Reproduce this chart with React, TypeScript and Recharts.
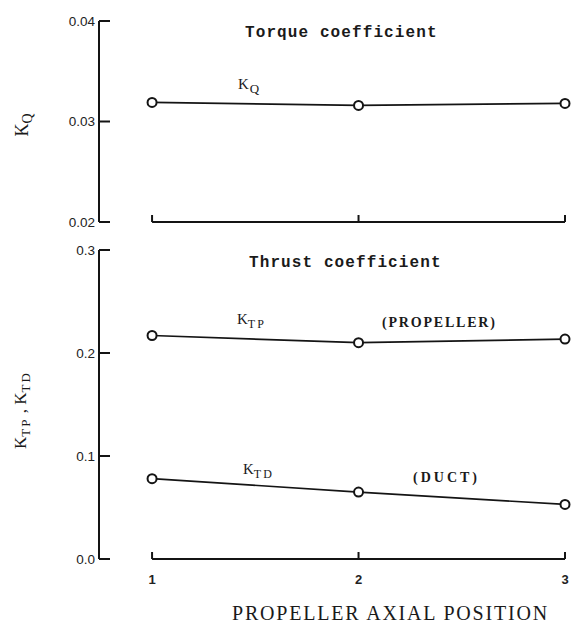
import { Line, LineChart, ReferenceLine, XAxis, YAxis } from 'recharts';

const positions = [1, 2, 3];
const kq = [0.0319, 0.0316, 0.0318];
const ktp = [0.217, 0.21, 0.2135];
const ktd = [0.078, 0.065, 0.053];

const kqTicks = [0.02, 0.03, 0.04];
const kqTickLabels = ['0.02', '0.03', '0.04'];
const ktTicks = [0, 0.1, 0.2, 0.3];
const ktTickLabels = ['0.0', '0.1', '0.2', '0.3'];
const xTickLabels = ['1', '2', '3'];

const topData = positions.map((p, i) => ({ pos: p, kq: kq[i] }));
const bottomData = positions.map((p, i) => ({ pos: p, ktp: ktp[i], ktd: ktd[i] }));

const INK = '#141414';
const X_DOMAIN: [number, number] = [0.743, 3];

function YTick({ x, y, payload, ticks, labels }: any) {
  const idx = ticks.indexOf(payload.value);
  return (
    <g>
      <line x1={x} y1={y} x2={x + 11} y2={y} stroke={INK} strokeWidth={2} />
      <text x={x - 4} y={y} textAnchor="end" dominantBaseline="central" fontFamily="Liberation Sans" fontSize={13.5} fill="#222">
        {labels[idx]}
      </text>
    </g>
  );
}

function XTick({ x, y, payload, showLabel }: any) {
  const idx = positions.indexOf(payload.value);
  return (
    <g>
      <line x1={x} y1={y} x2={x} y2={y - 7} stroke={INK} strokeWidth={2} />
      {showLabel && (
        <text x={x} y={y + 20} textAnchor="middle" dominantBaseline="central" fontFamily="Liberation Sans" fontWeight={700} fontSize={13} fill="#222">
          {xTickLabels[idx]}
        </text>
      )}
    </g>
  );
}

const dot = { r: 4.5, stroke: INK, strokeWidth: 2, fill: '#fff' };

const abs = (left: number, top: number, extra: React.CSSProperties = {}): React.CSSProperties => ({
  position: 'absolute',
  left,
  top,
  transform: 'translateY(-50%)',
  lineHeight: 1,
  whiteSpace: 'nowrap',
  color: '#1a1a1a',
  ...extra,
});

const mono: React.CSSProperties = { fontFamily: 'Liberation Mono', fontWeight: 700, fontSize: 16, letterSpacing: 1.1 };
const serif: React.CSSProperties = { fontFamily: 'Liberation Serif' };

export default function App() {
  return (
    <div style={{ position: 'absolute', left: 0, top: 0, width: 573, height: 629, background: '#fff', overflow: 'hidden' }}>
      <div style={{ position: 'absolute', left: 0, top: 0 }}>
        <LineChart width={573} height={240} data={topData} margin={{ top: 21, right: 8, bottom: 0, left: 0 }}>
          <XAxis
            dataKey="pos"
            type="number"
            domain={X_DOMAIN}
            ticks={positions}
            height={18}
            axisLine={false}
            tickLine={false}
            tickSize={0}
            tickMargin={0}
            tick={<XTick showLabel={false} />}
          />
          <YAxis
            type="number"
            domain={[0.02, 0.04]}
            ticks={kqTicks}
            width={99}
            axisLine={{ stroke: INK, strokeWidth: 2 }}
            tickLine={false}
            tickSize={0}
            tickMargin={0}
            tick={<YTick ticks={kqTicks} labels={kqTickLabels} />}
          />
          <ReferenceLine
            segment={[{ x: 1, y: 0.02 }, { x: 3, y: 0.02 }]}
            stroke={INK}
            strokeWidth={2}
            ifOverflow="visible"
          />
          <Line dataKey="kq" stroke={INK} strokeWidth={1.7} dot={dot} isAnimationActive={false} />
        </LineChart>
      </div>
      <div style={{ position: 'absolute', left: 0, top: 230 }}>
        <LineChart width={573} height={399} data={bottomData} margin={{ top: 20, right: 8, bottom: 0, left: 0 }}>
          <XAxis
            dataKey="pos"
            type="number"
            domain={X_DOMAIN}
            ticks={positions}
            height={70}
            axisLine={false}
            tickLine={false}
            tickSize={0}
            tickMargin={0}
            tick={<XTick showLabel={true} />}
          />
          <YAxis
            type="number"
            domain={[0, 0.3]}
            ticks={ktTicks}
            width={99}
            axisLine={{ stroke: INK, strokeWidth: 2 }}
            tickLine={false}
            tickSize={0}
            tickMargin={0}
            tick={<YTick ticks={ktTicks} labels={ktTickLabels} />}
          />
          <ReferenceLine
            segment={[{ x: 1, y: 0 }, { x: 3, y: 0 }]}
            stroke={INK}
            strokeWidth={2}
            ifOverflow="visible"
          />
          <Line dataKey="ktp" stroke={INK} strokeWidth={1.7} dot={dot} isAnimationActive={false} />
          <Line dataKey="ktd" stroke={INK} strokeWidth={1.7} dot={dot} isAnimationActive={false} />
        </LineChart>
      </div>

      <div style={abs(245, 33, mono)}>Torque coefficient</div>
      <div style={abs(249, 263, mono)}>Thrust coefficient</div>

      <div style={abs(238, 86, { ...serif, fontSize: 15 })}>
        K<sub style={{ fontSize: 13, marginLeft: 1 }}>Q</sub>
      </div>
      <div style={abs(237, 321, { ...serif, fontSize: 15 })}>
        K<sub style={{ fontSize: 12, letterSpacing: 2 }}>TP</sub>
      </div>
      <div style={abs(243, 471, { ...serif, fontSize: 15 })}>
        K<sub style={{ fontSize: 12, letterSpacing: 2 }}>TD</sub>
      </div>
      <div style={abs(382, 323, { ...serif, fontWeight: 700, fontSize: 14, letterSpacing: 1.8 })}>(PROPELLER)</div>
      <div style={abs(413, 478, { ...serif, fontWeight: 700, fontSize: 14, letterSpacing: 3 })}>(DUCT)</div>

      <div style={abs(232, 613, { ...serif, fontSize: 20, letterSpacing: 1.8 })}>PROPELLER AXIAL POSITION</div>

      <div
        style={{
          position: 'absolute',
          left: 24,
          top: 125,
          transform: 'translate(-50%, -50%) rotate(-90deg)',
          whiteSpace: 'nowrap',
          lineHeight: 1,
          ...serif,
          fontSize: 18,
          color: '#1a1a1a',
        }}
      >
        K<sub style={{ fontSize: 14 }}>Q</sub>
      </div>
      <div
        style={{
          position: 'absolute',
          left: 22,
          top: 410,
          transform: 'translate(-50%, -50%) rotate(-90deg)',
          whiteSpace: 'nowrap',
          lineHeight: 1,
          ...serif,
          fontSize: 17,
          color: '#1a1a1a',
        }}
      >
        K<sub style={{ fontSize: 13, letterSpacing: 2 }}>TP</sub> , K<sub style={{ fontSize: 13, letterSpacing: 2 }}>TD</sub>
      </div>
    </div>
  );
}
